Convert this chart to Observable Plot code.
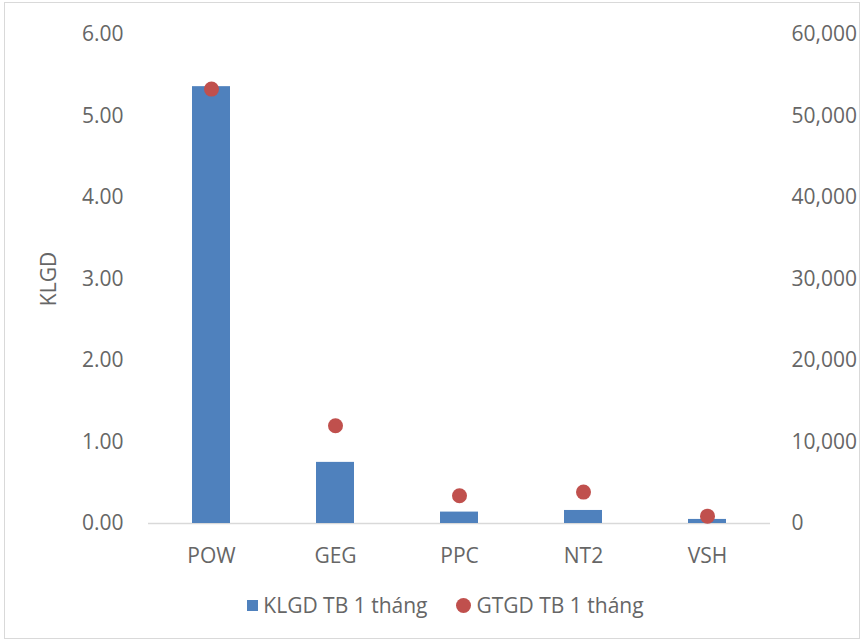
<!DOCTYPE html>
<html>
<head>
<meta charset="utf-8">
<script src="https://cdn.jsdelivr.net/npm/d3@7"></script>
<script src="https://cdn.jsdelivr.net/npm/@observablehq/plot@0.6"></script>
<style>
  body { margin: 0; background: #fff; font-family: "Open Sans", "Liberation Sans", sans-serif; }
  #wrap { position: relative; width: 865px; height: 643px; }
  #frame { position: absolute; left: 4px; top: 2px; width: 856px; height: 637px; border: 1px solid #d9d9d9; box-sizing: border-box; pointer-events: none; }
  #legend { position: absolute; left: 13px; top: 591px; width: 865px; display: flex; justify-content: center; gap: 29px; font-size: 21px; color: #666; }
  .item { display: flex; align-items: center; gap: 5px; }
  .sq { width: 11px; height: 11px; background: #4F81BD; display: inline-block; }
  .ci { width: 15px; height: 15px; border-radius: 50%; background: #C0504D; display: inline-block; }
</style>
</head>
<body>
<div id="wrap">
  <div id="chart"></div>
  <div id="legend">
    <div class="item"><span class="sq"></span><span>KLGD TB 1 tháng</span></div>
    <div class="item"><span class="ci"></span><span>GTGD TB 1 tháng</span></div>
  </div>
  <div id="frame"></div>
</div>
<script>
const categories = ["POW", "GEG", "PPC", "NT2", "VSH"];
const klgd = [5.36, 0.75, 0.14, 0.16, 0.05];
const gtgd = [53300, 12000, 3400, 3850, 900];
const leftTicks = [0, 1, 2, 3, 4, 5, 6];
const rightRatio = 10000;

const data = categories.map((c, i) => ({cat: c, klgd: klgd[i], gtgd: gtgd[i]}));

const chart = Plot.plot({
  width: 865,
  height: 580,
  marginTop: 34,
  marginBottom: 57,
  marginLeft: 148,
  marginRight: 95,
  style: {fontFamily: "'Open Sans', 'Liberation Sans', sans-serif", fontSize: "21px", color: "#666", background: "transparent"},
  x: {domain: categories, paddingInner: 0.69, paddingOuter: 0.345},
  y: {domain: [0, 6]},
  marks: [
    Plot.ruleY([0], {stroke: "#d9d9d9", strokeWidth: 1.5}),
    Plot.barY(data, {x: "cat", y: "klgd", fill: "#4F81BD"}),
    Plot.dot(data, {x: "cat", y: d => d.gtgd / rightRatio, r: 7.5, fill: "#C0504D", stroke: "none"}),
    Plot.axisX({tickSize: 0, tickPadding: 25, label: null, fontSize: 21}),
    Plot.axisY(leftTicks, {anchor: "left", tickSize: 0, tickPadding: 25, tickFormat: d3.format(".2f"), label: "KLGD", labelAnchor: "center", labelArrow: "none", labelOffset: 107, fontSize: 21}),
    Plot.axisY(leftTicks, {anchor: "right", tickSize: 0, tickPadding: 21, tickFormat: d => d3.format(",")(d * rightRatio), label: null, fontSize: 21})
  ]
});
document.getElementById("chart").appendChild(chart);
</script>
</body>
</html>
